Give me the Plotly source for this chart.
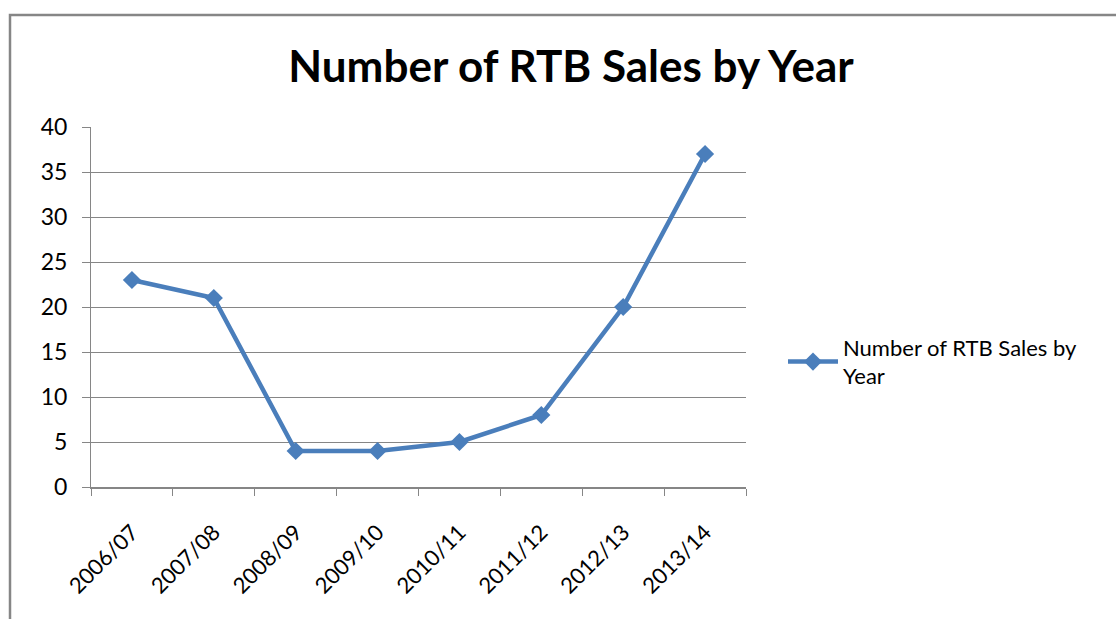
import plotly.graph_objects as go

years = ["2006/07", "2007/08", "2008/09", "2009/10", "2010/11", "2011/12", "2012/13", "2013/14"]
sales = [23, 21, 4, 4, 5, 8, 20, 37]
y_ticks = [0, 5, 10, 15, 20, 25, 30, 35, 40]

W, H = 1116, 619
L, R, T, B = 91, 746, 127, 487

def px(x):
    return (x - L) / (R - L)

def py(y):
    return (B - y) / (B - T)

fig = go.Figure()
fig.add_trace(go.Scatter(
    x=years, y=sales, mode="lines+markers",
    name="Number of RTB Sales by<br>Year",
    line=dict(color="#4a7ebb", width=4.5),
    marker=dict(symbol="diamond", size=14, color="#4a7ebb"),
))

fig.update_layout(
    width=W, height=H,
    margin=dict(l=L, r=W - R, t=T, b=H - B, pad=0),
    paper_bgcolor="white", plot_bgcolor="white",
    font=dict(family="Lato, Open Sans, sans-serif", size=22, color="black"),
    title=dict(text="<b>Number of RTB Sales by Year</b>", x=571 / W, xanchor="center",
               y=1 - 67 / H, yanchor="middle",
               font=dict(family="Lato, Open Sans, sans-serif", size=44, color="black")),
    showlegend=True,
    legend=dict(x=px(783), y=py(362), xanchor="left", yanchor="middle",
                font=dict(size=22), bgcolor="rgba(0,0,0,0)", itemwidth=50),
    xaxis=dict(type="category", tickson="boundaries", ticks="outside", ticklen=7,
               tickcolor="#868686", showline=True, linecolor="#868686", linewidth=1.5,
               showgrid=False, tickangle=-45, tickfont=dict(size=22),
               ticklabelstandoff=22, range=[-0.5, 7.5]),
    yaxis=dict(range=[0, 40], tickvals=y_ticks, ticks="outside", ticklen=8,
               tickcolor="#868686", showline=True, linecolor="#868686", linewidth=1,
               showgrid=True, gridcolor="#868686", gridwidth=1, zeroline=False,
               tickfont=dict(size=23), ticklabelstandoff=10),
    shapes=[
        dict(type="rect", xref="paper", yref="paper",
             x0=px(10), x1=px(1125), y0=py(640), y1=py(15),
             line=dict(color="#868686", width=2.5), fillcolor="rgba(0,0,0,0)"),
    ],
)

fig.write_html("out.html")
